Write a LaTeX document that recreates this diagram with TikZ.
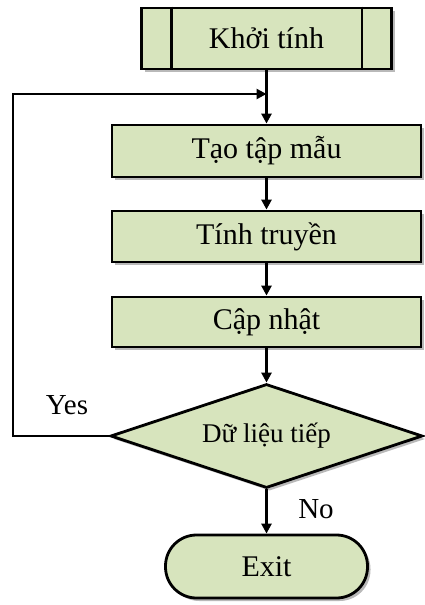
\documentclass[tikz,border=0pt]{standalone}
\usepackage{fontspec}
\setmainfont{Liberation Serif}
\usetikzlibrary{arrows.meta, shapes.geometric, shadows}
\definecolor{boxgreen}{HTML}{D7E4BD}

\begin{document}
\begin{tikzpicture}[x=1pt, y=-1pt,
	box/.style={draw, line width=2.8pt, fill=boxgreen, font=\fontsize{30}{33}\selectfont,
		drop shadow={shadow xshift=3pt, shadow yshift=-3pt, fill=black!55, opacity=.5}},
	arr/.style={-{Triangle[length=10pt, width=10pt]}, line width=2.5pt},
	label/.style={font=\fontsize{29}{31}\selectfont}]
	\useasboundingbox (0,0) rectangle (424,605);

	\node[box, minimum width=250pt, minimum height=61pt] (khoi) at (266.5, 38.5) {Khởi tính};
	\node[box, minimum width=309pt, minimum height=52pt] (tao) at (266.5, 151) {Tạo tập mẫu};
	\node[box, minimum width=309pt, minimum height=51pt] (tinh) at (266.5, 236.5) {Tính truyền};
	\node[box, minimum width=309pt, minimum height=50pt] (cap) at (266.5, 322) {Cập nhật};
	\node[box, diamond, aspect=3, inner sep=0pt, minimum width=312pt, minimum height=104pt,
		font=\fontsize{27}{30}\selectfont] (tiep) at (266.5, 436) {Dữ liệu tiếp};
	\node[box, rounded corners=31pt, minimum width=202pt, minimum height=63pt] (exit) at (266.5, 566.5) {Exit};

	% predefined process bars
	\draw[line width=2.8pt] ([xshift=31pt]khoi.north west) -- ([xshift=31pt]khoi.south west);
	\draw[line width=2.8pt] ([xshift=-31pt]khoi.north east) -- ([xshift=-31pt]khoi.south east);

	\coordinate (join) at (266.5, 94);
	\coordinate (back) at (13, 94);

	\draw[arr] (khoi) -- (tao);
	\draw[arr] (tao) -- (tinh);
	\draw[arr] (tinh) -- (cap);
	\draw[arr] (cap) -- (tiep);
	\draw[arr] (tiep) -- (exit);
	\draw[arr] (tiep.west) -| (back) -- (join);

	\node[label] (yes) at (67, 405) {Yes};
	\node[label] (no) at (316, 509) {No};
\end{tikzpicture}
\end{document}
